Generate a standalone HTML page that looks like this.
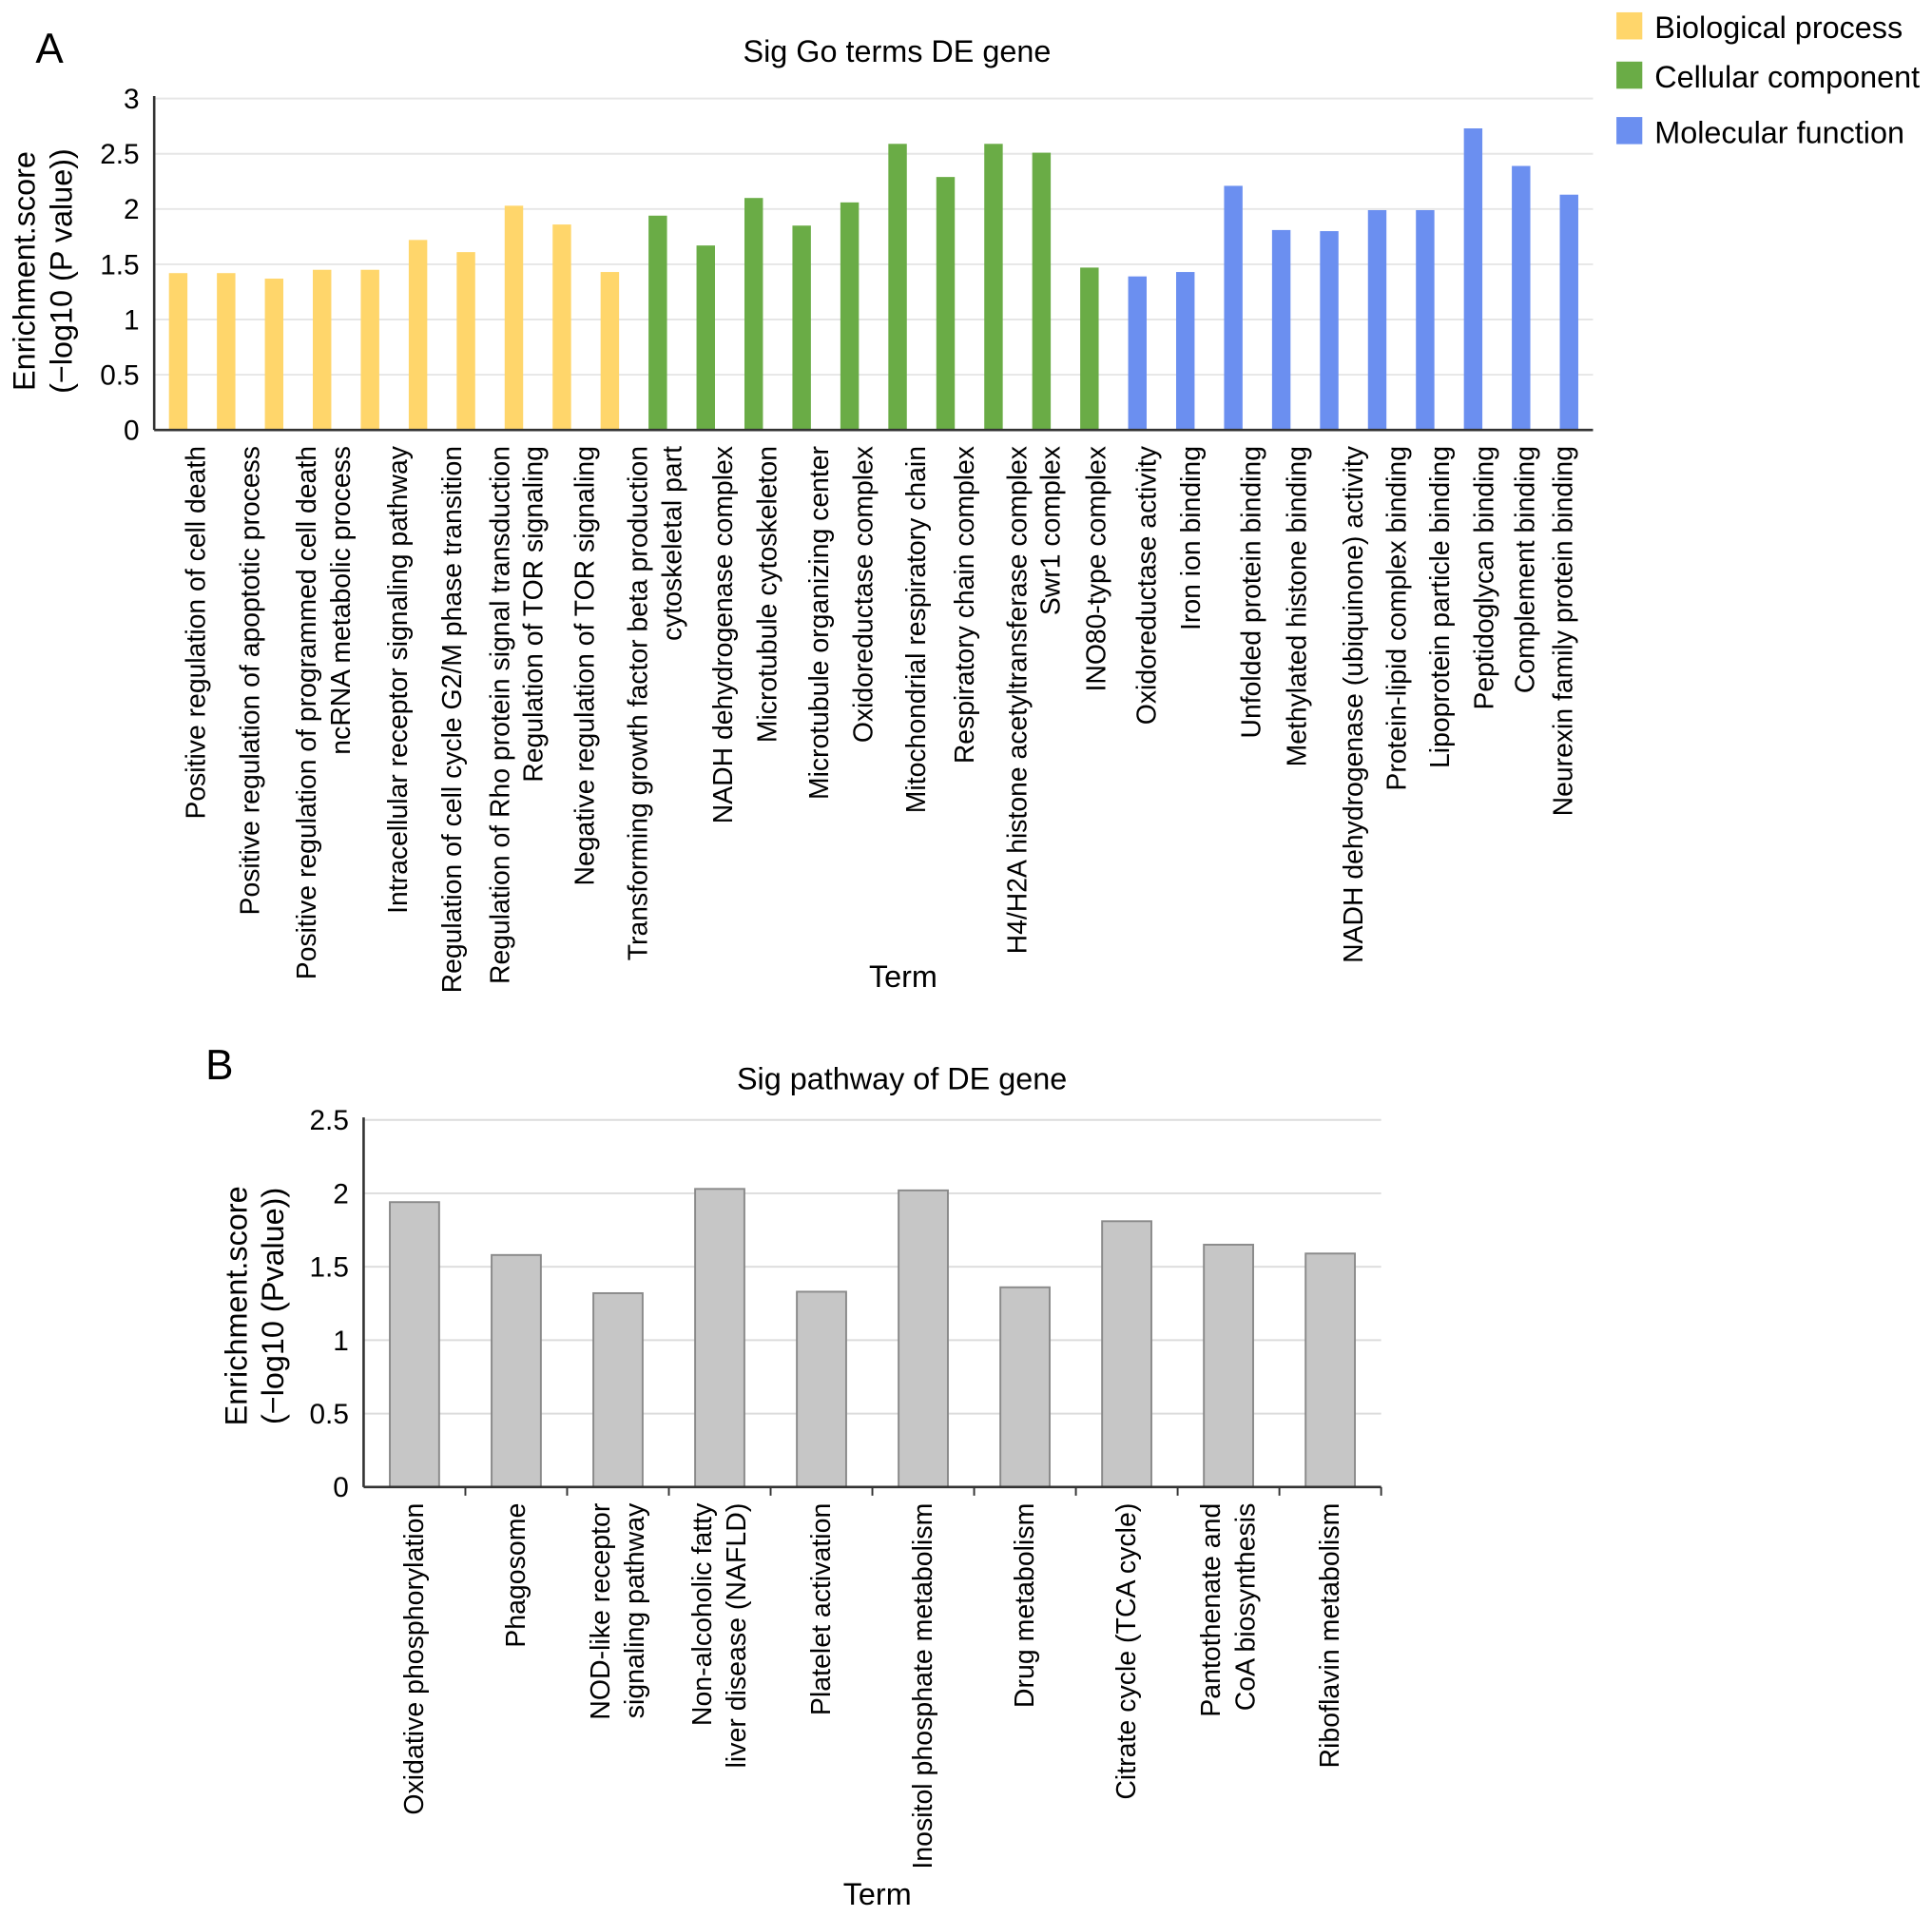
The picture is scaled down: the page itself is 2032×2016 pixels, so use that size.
<!DOCTYPE html>
<html><head><meta charset="utf-8"><style>
html,body{margin:0;padding:0;background:#fff}
svg{display:block;font-family:"Liberation Sans",Arial,sans-serif}
</style></head><body>
<svg id="fig" width="2032" height="2016" viewBox="0 0 1568 1556" xmlns="http://www.w3.org/2000/svg">
<g id="chartA"></g>
<g id="chartB"></g>
</svg>
<script>
const goTerms = ["Positive regulation of cell death","Positive regulation of apoptotic process","Positive regulation of programmed cell death","ncRNA metabolic process","Intracellular receptor signaling pathway","Regulation of cell cycle G2/M phase transition","Regulation of Rho protein signal transduction","Regulation of TOR signaling","Negative regulation of TOR signaling","Transforming growth factor beta production","cytoskeletal part","NADH dehydrogenase complex","Microtubule cytoskeleton","Microtubule organizing center","Oxidoreductase complex","Mitochondrial respiratory chain","Respiratory chain complex","H4/H2A histone acetyltransferase complex","Swr1 complex","INO80-type complex","Oxidoreductase activity","Iron ion binding","Unfolded protein binding","Methylated histone binding","NADH dehydrogenase (ubiquinone) activity","Protein-lipid complex binding","Lipoprotein particle binding","Peptidoglycan binding","Complement binding","Neurexin family protein binding"];
const goValues = [1.42,1.42,1.37,1.45,1.45,1.72,1.61,2.03,1.86,1.43, 1.94,1.67,2.10,1.85,2.06,2.59,2.29,2.59,2.51,1.47, 1.39,1.43,2.21,1.81,1.80,1.99,1.99,2.73,2.39,2.13];
const goCategory = ["BP","BP","BP","BP","BP","BP","BP","BP","BP","BP","CC","CC","CC","CC","CC","CC","CC","CC","CC","CC","MF","MF","MF","MF","MF","MF","MF","MF","MF","MF"];
const goLabelX = [158,202,248,276,322,366,405,432,474,517,545,586,622,664,700,743,782,825,852,889,930,966,1015,1052,1098,1133,1168,1204,1237,1268];
const goTicks = [0,0.5,1,1.5,2,2.5,3];
const goTickLabels = ["0","0.5","1","1.5","2","2.5","3"];
const legendNames = ["Biological process","Cellular component","Molecular function"];

const pwTerms = [["Oxidative phosphorylation"],["Phagosome"],["NOD-like receptor","signaling pathway"],["Non-alcoholic fatty","liver disease (NAFLD)"],["Platelet activation"],["Inositol phosphate metabolism"],["Drug metabolism"],["Citrate cycle (TCA cycle)"],["Pantothenate and","CoA biosynthesis"],["Riboflavin metabolism"]];
const pwValues = [1.94,1.58,1.32,2.03,1.33,2.02,1.36,1.81,1.65,1.59];
const pwTicks = [0,0.5,1,1.5,2,2.5];
const pwTickLabels = ["0","0.5","1","1.5","2","2.5"];

const NS="http://www.w3.org/2000/svg";
function mk(parent,tag,attrs,text){const e=document.createElementNS(NS,tag);for(const k in attrs)e.setAttribute(k,attrs[k]);if(text!==undefined)e.textContent=text;parent.appendChild(e);return e;}
const colors={BP:"#ffd66b",CC:"#6aac46",MF:"#6b8ff0"};

// Chart A
(function(){
const g=document.getElementById('chartA');
const x0=125,x1=1293,y0=349,ymax=3,ytop=80;
const yS=v=>y0-(v/ymax)*(y0-ytop);
const step=(x1-x0)/goValues.length;
const xS=i=>x0+step*(i+0.5);
let t;
t=mk(g,'text',{x:40,y:51,'font-size':34,'text-anchor':'middle'},'A');

t=mk(g,'text',{x:728,y:50,'font-size':25,'text-anchor':'middle'},'Sig Go terms DE gene');

goTicks.forEach((v,i)=>{
  if(v>0){const l=mk(g,'line',{x1:x0,x2:x1,y1:yS(v),y2:yS(v),stroke:'#e6e6e6','stroke-width':1.5});
  }
  const tl=mk(g,'text',{x:113,y:yS(v)+8,'font-size':23,'text-anchor':'end'},goTickLabels[i]);
  
});
goValues.forEach((v,i)=>{
  const r=mk(g,'rect',{x:xS(i)-7.5,y:yS(v),width:15,height:y0-yS(v),fill:colors[goCategory[i]]});
  
  const tx=goLabelX[i]+8;
  const lb=mk(g,'text',{x:tx,y:362,'font-size':21.9,'text-anchor':'end',transform:`rotate(-90 ${tx} 362)`},goTerms[i]);
  
});
let a=mk(g,'line',{x1:x0,x2:x0,y1:ytop-2,y2:y0,stroke:'#333','stroke-width':2});

a=mk(g,'line',{x1:x0,x2:x1,y1:y0,y2:y0,stroke:'#333','stroke-width':2});

t=mk(g,'text',{x:733,y:801,'font-size':25,'text-anchor':'middle'},'Term');

t=mk(g,'text',{x:28,y:220,'font-size':25,'text-anchor':'middle',transform:'rotate(-90 28 220)'},'Enrichment.score');

t=mk(g,'text',{x:58,y:220,'font-size':25,'text-anchor':'middle',transform:'rotate(-90 58 220)'},'(\u2212log10 (P value))');

const ly=[10,50,95];
["BP","CC","MF"].forEach((c,i)=>{
  const s=mk(g,'rect',{x:1312,y:ly[i],width:21,height:22,fill:colors[c]});
  
  const lt=mk(g,'text',{x:1343,y:ly[i]+21,'font-size':25},legendNames[i]);
  
});
})();

// Chart B
(function(){
const g=document.getElementById('chartB');
const x0=295,x1=1121,y0=1207,ymax=2.5,ytop=909;
const yS=v=>y0-(v/ymax)*(y0-ytop);
const step=(x1-x0)/pwValues.length;
const xS=i=>x0+step*(i+0.5);
let t;
t=mk(g,'text',{x:178,y:876,'font-size':34,'text-anchor':'middle'},'B');

t=mk(g,'text',{x:732,y:884,'font-size':25,'text-anchor':'middle'},'Sig pathway of DE gene');

pwTicks.forEach((v,i)=>{
  if(v>0){const l=mk(g,'line',{x1:x0,x2:x1,y1:yS(v),y2:yS(v),stroke:'#dcdcdc','stroke-width':1.5});
  }
  const tl=mk(g,'text',{x:283,y:yS(v)+8,'font-size':23,'text-anchor':'end'},pwTickLabels[i]);
  
});
pwValues.forEach((v,i)=>{
  const r=mk(g,'rect',{x:xS(i)-20,y:yS(v),width:40,height:y0-yS(v),fill:'#c6c6c6',stroke:'#8a8a8a','stroke-width':1.5});
  
  const tk=mk(g,'line',{x1:x0+step*(i+1),x2:x0+step*(i+1),y1:y0,y2:y0+7,stroke:'#333','stroke-width':1.5});
  
  const lines=pwTerms[i];
  lines.forEach((s,j)=>{
    const tx=xS(i)+(lines.length===1?7:(j===0?-7:21));
    const lb=mk(g,'text',{x:tx,y:1220,'font-size':22,'text-anchor':'end',transform:`rotate(-90 ${tx} 1220)`},s);
    
  });
});
let a=mk(g,'line',{x1:x0,x2:x0,y1:ytop-2,y2:y0,stroke:'#333','stroke-width':2});

a=mk(g,'line',{x1:x0,x2:x1,y1:y0,y2:y0,stroke:'#333','stroke-width':2});

t=mk(g,'text',{x:712,y:1546,'font-size':25,'text-anchor':'middle'},'Term');

t=mk(g,'text',{x:200,y:1060,'font-size':25,'text-anchor':'middle',transform:'rotate(-90 200 1060)'},'Enrichment.score');

t=mk(g,'text',{x:230,y:1060,'font-size':25,'text-anchor':'middle',transform:'rotate(-90 230 1060)'},'(\u2212log10 (Pvalue))');

})();
</script>
</body></html>
